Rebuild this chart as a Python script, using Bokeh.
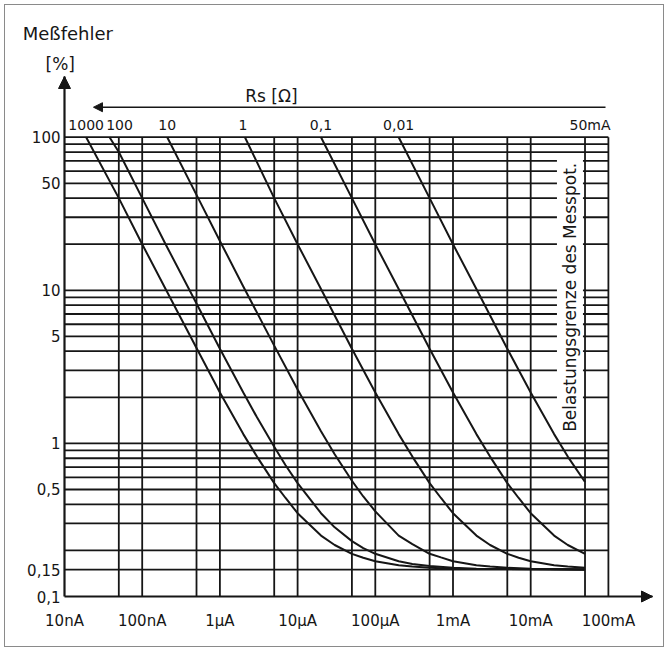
from bokeh.plotting import figure
from bokeh.models import FixedTicker, Label, Arrow, NormalHead, Range1d
from bokeh.core.properties import value
from bokeh.embed import file_html
from bokeh.resources import INLINE

# ---------------- data ----------------
RS_LABELS = ["1000", "100", "10", "1", "0,1", "0,01"]

I_1000 = [1.9e-8, 5e-8, 1e-7, 2e-7, 5e-7, 1e-6, 2e-6, 3e-6, 5e-6, 7e-6, 1e-5, 2e-5, 3e-5, 5e-5, 7e-5, 1e-4, 2e-4, 3e-4, 5e-4, 1e-3, 5e-2]
E_1000 = [100, 40, 20, 10.2, 4.2, 2.15, 1.15, 0.82, 0.55, 0.44, 0.35, 0.25, 0.217, 0.19, 0.179, 0.17, 0.16, 0.157, 0.154, 0.152, 0.15]

I_100 = [3.8e-8, 5e-8, 1e-7, 2e-7, 5e-7, 1e-6, 2e-6, 3e-6, 5e-6, 7e-6, 1e-5, 2e-5, 3e-5, 5e-5, 7e-5, 1e-4, 2e-4, 3e-4, 5e-4, 1e-3, 2e-3, 5e-2]
E_100 = [100, 80, 40, 20, 8.2, 4.15, 2.15, 1.48, 0.95, 0.72, 0.55, 0.35, 0.283, 0.23, 0.207, 0.19, 0.17, 0.163, 0.158, 0.154, 0.152, 0.15]

I_10 = [2.1e-7, 5e-7, 1e-6, 2e-6, 5e-6, 1e-5, 2e-5, 3e-5, 5e-5, 7e-5, 1e-4, 2e-4, 3e-4, 5e-4, 7e-4, 1e-3, 2e-3, 3e-3, 5e-3, 1e-2, 5e-2]
E_10 = [100, 42, 21, 10.6, 4.35, 2.25, 1.2, 0.85, 0.57, 0.45, 0.36, 0.25, 0.22, 0.19, 0.18, 0.17, 0.16, 0.157, 0.154, 0.152, 0.15]

I_1 = [2.1e-6, 5e-6, 1e-5, 2e-5, 5e-5, 1e-4, 2e-4, 3e-4, 5e-4, 7e-4, 1e-3, 2e-3, 3e-3, 5e-3, 7e-3, 1e-2, 2e-2, 3e-2, 5e-2]
E_1 = [100, 40, 20, 10.2, 4.15, 2.15, 1.15, 0.82, 0.55, 0.44, 0.35, 0.25, 0.217, 0.19, 0.179, 0.17, 0.16, 0.157, 0.154]

I_01 = [2.0e-5, 5e-5, 1e-4, 2e-4, 5e-4, 1e-3, 2e-3, 3e-3, 5e-3, 7e-3, 1e-2, 2e-2, 3e-2, 5e-2]
E_01 = [100, 40, 20, 10.2, 4.15, 2.15, 1.15, 0.82, 0.55, 0.44, 0.35, 0.25, 0.217, 0.19]

I_001 = [2.0e-4, 5e-4, 1e-3, 2e-3, 5e-3, 1e-2, 2e-2, 3e-2, 5e-2]
E_001 = [100, 40, 20, 10.2, 4.15, 2.15, 1.15, 0.82, 0.56]

CURVES_I = [I_1000, I_100, I_10, I_1, I_01, I_001]
CURVES_E = [E_1000, E_100, E_10, E_1, E_01, E_001]

X_TICKS = [1e-8, 1e-7, 1e-6, 1e-5, 1e-4, 1e-3, 1e-2, 1e-1]
X_TICK_LABELS = ["10nA", "100nA", "1\u00b5A", "10\u00b5A", "100\u00b5A", "1mA", "10mA", "100mA"]
Y_TICKS = [0.1, 0.15, 0.5, 1, 5, 10, 50, 100]
Y_TICK_LABELS = ["0,1", "0,15", "0,5", "1", "5", "10", "50", "100"]

GRID_X = [5e-8, 1e-7, 5e-7, 1e-6, 5e-6, 1e-5, 5e-5, 1e-4, 5e-4, 1e-3, 5e-3, 1e-2, 5e-2, 1e-1]
GRID_Y = [0.15, 0.2, 0.3, 0.4, 0.5, 0.6, 0.7, 0.8, 0.9,
          1, 2, 3, 4, 5, 6, 7, 8, 9,
          10, 20, 30, 40, 50, 60, 70, 80, 90, 100]
GRID_Y_END = [5e-2] + [1e-1] * (len(GRID_Y) - 1)   # the 0,15 line stops at 50 mA

LIMIT_I = 5e-2   # "Belastungsgrenze des Messpot."

X_MIN, X_MAX = 1e-8, 1e-1
Y_MIN, Y_MAX = 0.1, 100

# ---------------- layout ----------------
INK = "#161616"
FONT = "DejaVu Sans"
W, H = 660, 643
AX_L, AX_B = 59, 591                # axis origin in canvas pixels (from left / top)
DEC_X, DEC_Y = 77.7, 153.1          # pixels per decade
x_start = 10 ** (-8 - AX_L / DEC_X)
x_end = 10 ** (-8 + (W - AX_L) / DEC_X)
y_start = 10 ** (-1 - (H - AX_B) / DEC_Y)
y_end = 10 ** (-1 + AX_B / DEC_Y)

p = figure(width=W, height=H, x_axis_type="log", y_axis_type="log",
           x_range=Range1d(x_start, x_end), y_range=Range1d(y_start, y_end),
           output_backend="svg", toolbar_location=None,
           min_border_left=0, min_border_right=0,
           min_border_top=0, min_border_bottom=0)
p.styles = {"border": "1px solid #8a8a8a", "margin": "4px 4px 0px 4px"}
p.outline_line_color = None
p.xgrid.visible = False
p.ygrid.visible = False
p.background_fill_color = "white"
p.border_fill_color = "white"

X_ARROW = 10 ** (-8 + 588 / DEC_X)
Y_ARROW = 10 ** (-1 + 520 / DEC_Y)

for ax in (p.xaxis[0], p.yaxis[0]):
    ax.axis_line_width = 2.2
    ax.axis_line_color = INK
    ax.major_tick_in = 0
    ax.major_tick_out = 0
    ax.major_tick_line_color = None
    ax.minor_tick_line_color = None
    ax.major_label_text_font = FONT
    ax.major_label_text_font_size = "15px"
    ax.major_label_text_color = INK

p.xaxis[0].fixed_location = Y_MIN
p.xaxis[0].ticker = FixedTicker(ticks=X_TICKS, minor_ticks=[])
p.xaxis[0].major_label_overrides = dict(zip(X_TICKS, X_TICK_LABELS))
p.xaxis[0].major_label_standoff = 15
p.xaxis[0].bounds = (X_MIN, X_ARROW)

p.yaxis[0].fixed_location = X_MIN
p.yaxis[0].ticker = FixedTicker(ticks=Y_TICKS, minor_ticks=[])
p.yaxis[0].major_label_overrides = dict(zip(Y_TICKS, Y_TICK_LABELS))
p.yaxis[0].major_label_standoff = 4
p.yaxis[0].bounds = (Y_MIN, Y_ARROW)

# grid
p.segment(x0=GRID_X, y0=[Y_MIN] * len(GRID_X), x1=GRID_X, y1=[Y_MAX] * len(GRID_X),
          line_color=INK, line_width=1.8)
p.segment(x0=[X_MIN] * len(GRID_Y), y0=GRID_Y, x1=GRID_Y_END, y1=GRID_Y,
          line_color=INK, line_width=1.8)

# curves
for xs, ys in zip(CURVES_I, CURVES_E):
    p.line(xs, ys, line_color=INK, line_width=2.0)

# curve labels at the top
LABEL_Y = 121
p.text(x=[c[0] for c in CURVES_I], y=[LABEL_Y] * len(CURVES_I), text=RS_LABELS,
       x_offset=[0, 10, 0, -2, 0, 0],
       text_align="center", text_baseline="middle",
       text_font=value(FONT), text_font_size="14px", text_color=INK)
p.text(x=[LIMIT_I], y=[LABEL_Y], text=["50mA"], x_offset=5,
       text_align="center", text_baseline="middle",
       text_font=value(FONT), text_font_size="14px", text_color=INK)

# Rs arrow
RS_Y = 157
p.add_layout(Arrow(end=NormalHead(size=9, fill_color=INK, line_color=INK),
                   x_start=0.0918, y_start=RS_Y, x_end=2.36e-8, y_end=RS_Y,
                   line_color=INK, line_width=1.5))
p.add_layout(Label(x=4.6e-6, y=185, text="Rs [\u03a9]", text_align="center",
                   text_baseline="middle", text_font=FONT, text_font_size="17px",
                   text_color=INK))

# axis arrow heads
p.add_layout(Arrow(end=NormalHead(size=12, fill_color=INK, line_color=INK),
                   x_start=X_MIN, y_start=Y_ARROW * 0.8, x_end=X_MIN, y_end=Y_ARROW,
                   line_alpha=0))
p.add_layout(Arrow(end=NormalHead(size=11, fill_color=INK, line_color=INK),
                   x_start=X_ARROW * 0.8, y_start=Y_MIN, x_end=X_ARROW, y_end=Y_MIN,
                   line_alpha=0))

# y axis title
p.add_layout(Label(x=2.9e-9, y=475, text="Me\u00dffehler", text_align="left",
                   text_baseline="middle", text_font=FONT, text_font_size="18px",
                   text_color=INK))
p.add_layout(Label(x=5.7e-9, y=300, text="[%]", text_align="left",
                   text_baseline="middle", text_font=FONT, text_font_size="17px",
                   text_color=INK))

# load limit text
p.add_layout(Label(x=3.2e-2, y=9.0, text="Belastungsgrenze des Messpot.",
                   angle=90, angle_units="deg", text_align="center",
                   text_baseline="middle", text_font=FONT, text_font_size="17px",
                   text_color=INK, background_fill_color="white", padding=3))

open("out.html", "w").write(file_html(p, INLINE))
